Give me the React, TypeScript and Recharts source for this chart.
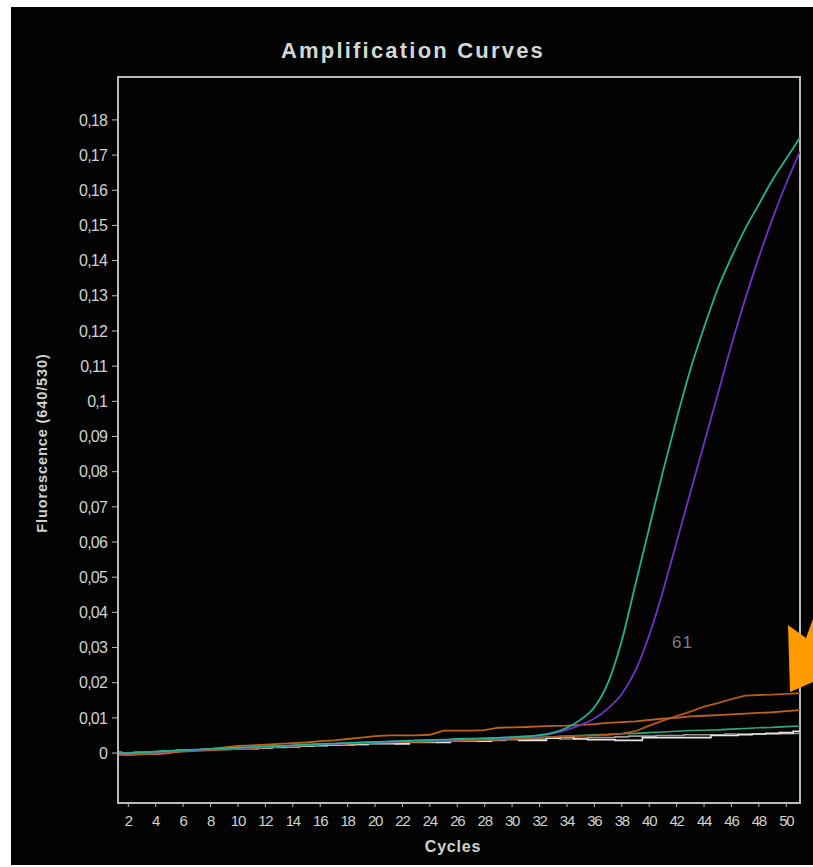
import React from 'react';
import { LineChart, Line, XAxis, YAxis, ReferenceArea } from 'recharts';

const cycles = [1,2,3,4,5,6,7,8,9,10,11,12,13,14,15,16,17,18,19,20,21,22,23,24,25,26,27,28,29,30,31,32,33,34,35,36,37,38,39,40,41,42,43,44,45,46,47,48,49,50,51];

const tealSeries = [0.0000,0.0000,0.0002,0.0004,0.0006,0.0008,0.0010,0.0012,0.0013,0.0015,0.0017,0.0019,0.0020,0.0022,0.0024,0.0026,0.0027,0.0029,0.0030,0.0032,0.0033,0.0034,0.0036,0.0037,0.0038,0.0040,0.0041,0.0042,0.0043,0.0045,0.0047,0.0051,0.0058,0.0072,0.0095,0.0130,0.0200,0.0320,0.0480,0.0640,0.0800,0.0950,0.1090,0.1210,0.1320,0.1410,0.1490,0.1560,0.1630,0.1690,0.1750];

const purpleSeries = [0.0000,-0.0001,0.0001,0.0003,0.0005,0.0007,0.0009,0.0011,0.0012,0.0014,0.0016,0.0018,0.0020,0.0021,0.0023,0.0025,0.0026,0.0028,0.0029,0.0031,0.0032,0.0033,0.0035,0.0036,0.0037,0.0039,0.0040,0.0041,0.0043,0.0045,0.0047,0.0050,0.0056,0.0066,0.0080,0.0098,0.0127,0.0168,0.0235,0.0335,0.0460,0.0600,0.0740,0.0880,0.1020,0.1160,0.1290,0.1410,0.1520,0.1620,0.1710];

const orangeASeries = [-0.0004,-0.0006,-0.0002,-0.0004,0.0000,0.0006,0.0008,0.0012,0.0016,0.0020,0.0022,0.0024,0.0026,0.0028,0.0030,0.0034,0.0036,0.0040,0.0044,0.0048,0.0050,0.0050,0.0050,0.0052,0.0064,0.0064,0.0064,0.0065,0.0072,0.0073,0.0074,0.0076,0.0077,0.0078,0.0080,0.0082,0.0086,0.0088,0.0090,0.0094,0.0098,0.0100,0.0104,0.0106,0.0108,0.0110,0.0112,0.0114,0.0116,0.0119,0.0122];

const orangeBSeries = [-0.0003,-0.0005,-0.0004,0.0000,0.0002,0.0004,0.0006,0.0008,0.0010,0.0012,0.0014,0.0016,0.0018,0.0020,0.0022,0.0024,0.0025,0.0026,0.0028,0.0029,0.0030,0.0031,0.0032,0.0033,0.0034,0.0035,0.0036,0.0037,0.0038,0.0040,0.0042,0.0044,0.0046,0.0048,0.0049,0.0050,0.0052,0.0055,0.0062,0.0078,0.0092,0.0105,0.0118,0.0132,0.0142,0.0153,0.0163,0.0165,0.0166,0.0168,0.0170];

const greenSeries = [0.0001,0.0001,0.0003,0.0004,0.0006,0.0008,0.0009,0.0011,0.0013,0.0014,0.0016,0.0018,0.0019,0.0021,0.0023,0.0025,0.0026,0.0028,0.0029,0.0031,0.0032,0.0034,0.0035,0.0036,0.0037,0.0039,0.0040,0.0041,0.0042,0.0043,0.0044,0.0045,0.0046,0.0048,0.0050,0.0052,0.0053,0.0055,0.0056,0.0058,0.0060,0.0062,0.0064,0.0065,0.0066,0.0068,0.0070,0.0072,0.0073,0.0075,0.0077];

const whiteSeries = [0.0002,0.0000,0.0000,0.0003,0.0005,0.0008,0.0008,0.0010,0.0012,0.0014,0.0014,0.0016,0.0018,0.0018,0.0020,0.0022,0.0024,0.0024,0.0026,0.0028,0.0028,0.0026,0.0032,0.0032,0.0030,0.0036,0.0036,0.0034,0.0040,0.0040,0.0036,0.0036,0.0042,0.0046,0.0040,0.0038,0.0038,0.0036,0.0036,0.0044,0.0044,0.0044,0.0044,0.0044,0.0050,0.0050,0.0052,0.0054,0.0056,0.0058,0.0062];

const graySeries = [0.0000,0.0001,0.0002,0.0002,0.0004,0.0006,0.0008,0.0008,0.0010,0.0012,0.0012,0.0014,0.0016,0.0018,0.0020,0.0020,0.0022,0.0024,0.0024,0.0026,0.0026,0.0030,0.0030,0.0030,0.0034,0.0034,0.0034,0.0036,0.0036,0.0038,0.0040,0.0040,0.0042,0.0040,0.0042,0.0044,0.0044,0.0046,0.0048,0.0048,0.0050,0.0050,0.0052,0.0052,0.0052,0.0054,0.0054,0.0054,0.0055,0.0055,0.0056];

const xTicks = [2,4,6,8,10,12,14,16,18,20,22,24,26,28,30,32,34,36,38,40,42,44,46,48,50];
const yTicks = [0,0.01,0.02,0.03,0.04,0.05,0.06,0.07,0.08,0.09,0.1,0.11,0.12,0.13,0.14,0.15,0.16,0.17,0.18];

const xDomain = [1.25, 51];
const yDomain = [-0.0142, 0.1922];

const data = cycles.map((c, i) => ({
  cycle: c,
  teal: tealSeries[i],
  purple: purpleSeries[i],
  orangeA: orangeASeries[i],
  orangeB: orangeBSeries[i],
  green: greenSeries[i],
  white: whiteSeries[i],
  gray: graySeries[i],
}));

const fmtY = (v: number) => String(Number(v.toFixed(2))).replace('.', ',');

const axisColor = '#b8bdb8';
const textColor = '#cfd2cf';
const font = '"Liberation Sans", Arial, sans-serif';

export default function App() {
  return (
    <div style={{ position: 'absolute', left: 0, top: 0, width: 813, height: 867, background: '#ffffff', overflow: 'hidden' }}>
      <div style={{ position: 'absolute', left: 11, top: 7, width: 802, height: 858, background: '#030303' }} />
      <div style={{ position: 'absolute', left: 0, top: 0 }}>
        <LineChart
          width={813}
          height={867}
          data={data}
          margin={{ top: 77, right: 13, bottom: 0, left: 0 }}
        >
          <XAxis
            dataKey="cycle"
            type="number"
            domain={xDomain}
            ticks={xTicks}
            allowDataOverflow
            height={64}
            axisLine={{ stroke: axisColor, strokeWidth: 2 }}
            tickLine={{ stroke: axisColor }}
            tickSize={4}
            tick={{ fill: textColor, fontSize: 15, fontFamily: font, letterSpacing: -1.2, dy: 6 }}
            label={{
              content: () => (
                <text
                  x={453}
                  y={852}
                  textAnchor="middle"
                  fill={textColor}
                  fontFamily={font}
                  fontWeight="bold"
                  fontSize={16}
                  letterSpacing={0.8}
                >
                  Cycles
                </text>
              ),
            }}
          />
          <YAxis
            type="number"
            domain={yDomain}
            ticks={yTicks}
            allowDataOverflow
            width={118}
            axisLine={{ stroke: axisColor, strokeWidth: 2 }}
            tickLine={{ stroke: axisColor }}
            tickSize={6}
            tickFormatter={fmtY}
            tick={{ fill: textColor, fontSize: 16, fontFamily: font, letterSpacing: -0.8, dx: -3 }}
            label={{
              content: () => (
                <text
                  x={47}
                  y={443}
                  transform="rotate(-90 47 443)"
                  textAnchor="middle"
                  fill={textColor}
                  fontFamily={font}
                  fontWeight="bold"
                  fontSize={14.5}
                  letterSpacing={0.9}
                >
                  Fluorescence (640/530)
                </text>
              ),
            }}
          />
          <ReferenceArea
            x1={xDomain[0]}
            x2={xDomain[1]}
            y1={yDomain[0]}
            y2={yDomain[1]}
            fill="none"
            stroke={axisColor}
            strokeWidth={2}
            ifOverflow="visible"
          />
          <Line dataKey="gray" type="step" stroke="#9a9a9a" strokeWidth={1.6} dot={false} isAnimationActive={false} />
          <Line dataKey="white" type="step" stroke="#e6e6e6" strokeWidth={1.6} dot={false} isAnimationActive={false} />
          <Line dataKey="green" type="linear" stroke="#2fa878" strokeWidth={1.6} dot={false} isAnimationActive={false} />
          <Line dataKey="orangeB" type="linear" stroke="#b4581a" strokeWidth={1.8} dot={false} isAnimationActive={false} />
          <Line dataKey="orangeA" type="linear" stroke="#c0611c" strokeWidth={1.8} dot={false} isAnimationActive={false} />
          <Line dataKey="purple" type="monotone" stroke="#6a36c8" strokeWidth={1.8} dot={false} isAnimationActive={false} />
          <Line dataKey="teal" type="monotone" stroke="#1fb494" strokeWidth={1.8} dot={false} isAnimationActive={false} />
        </LineChart>
      </div>
      <svg
        width={813}
        height={867}
        style={{ position: 'absolute', left: 0, top: 0, pointerEvents: 'none' }}
      >
        <text
          x={413}
          y={58}
          textAnchor="middle"
          fill="#d4d8d4"
          fontFamily={font}
          fontWeight="bold"
          fontSize={22}
          letterSpacing={2.2}
        >
          Amplification Curves
        </text>
        <text x={672} y={648} fill="#7c7c7c" fontFamily={font} fontSize={17} letterSpacing={1}>
          61
        </text>
        <polygon points="788,625 806,638 813,619 813,682 790,692" fill="#ff9a00" />
      </svg>
    </div>
  );
}
